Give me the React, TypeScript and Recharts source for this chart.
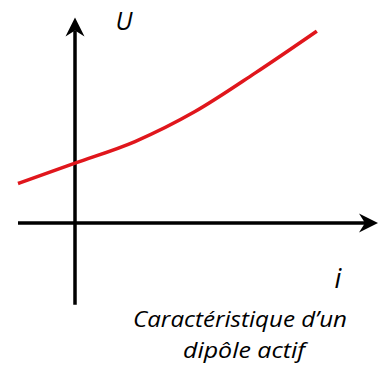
import { LineChart, Line, XAxis, YAxis, ReferenceLine } from "recharts";

// courbe U = f(i) (unités arbitraires)
const iValues = [-0.95, 0, 1, 2, 3, 4.03];
const uValues = [0.66, 1.0, 1.36, 1.86, 2.5, 3.2];

const axisI = { from: -0.95, to: 5.05 };
const axisU = { from: -1.36, to: 3.43 };

const captionLines = ["Caractéristique d’un", "dipôle actif"];

const data = iValues.map((i, k) => ({ i, U: uValues[k] }));

const FONT = "'Open Sans', Lato, sans-serif";

const ArrowAxis = (props: any) => {
  const { x1, y1, x2, y2 } = props;
  const dx = x2 - x1;
  const dy = y2 - y1;
  const len = Math.sqrt(dx * dx + dy * dy) || 1;
  const ux = dx / len;
  const uy = dy / len;
  const px = -uy;
  const py = ux;
  const head = 19;
  const half = 9.5;
  const notch = 13;
  const path = [
    `M${x2},${y2}`,
    `L${x2 - ux * head + px * half},${y2 - uy * head + py * half}`,
    `L${x2 - ux * notch},${y2 - uy * notch}`,
    `L${x2 - ux * head - px * half},${y2 - uy * head - py * half}`,
    "Z",
  ].join(" ");
  return (
    <g>
      <line
        x1={x1}
        y1={y1}
        x2={x2 - ux * notch}
        y2={y2 - uy * notch}
        stroke="#000"
        strokeWidth={3.5}
      />
      <path d={path} fill="#000" />
    </g>
  );
};

export default function App() {
  return (
    <div>
      <style>{"body{margin:0}"}</style>
      <LineChart
        width={390}
        height={370}
        data={data}
        margin={{ top: 0, right: 0, left: 0, bottom: 0 }}
      >
        <XAxis type="number" dataKey="i" domain={[-1.25, 5.25]} hide />
        <YAxis type="number" domain={[-2.45, 3.72]} hide />

        <ReferenceLine
          segment={[
            { x: axisI.from, y: 0 },
            { x: axisI.to, y: 0 },
          ]}
          shape={ArrowAxis}
        />
        <ReferenceLine
          segment={[
            { x: 0, y: axisU.from },
            { x: 0, y: axisU.to },
          ]}
          shape={ArrowAxis}
        />

        <Line
          type="monotone"
          dataKey="U"
          stroke="#e0161c"
          strokeWidth={3.5}
          strokeLinecap="butt"
          dot={false}
          activeDot={false}
          isAnimationActive={false}
        />

        <text x={124} y={30} textAnchor="middle" fontFamily={FONT} fontStyle="italic" fontSize={25} fill="#000">
          U
        </text>
        <text x={338} y={288} textAnchor="middle" fontFamily={FONT} fontStyle="italic" fontSize={27} fill="#000">
          i
        </text>
        <text
          x={240}
          y={327}
          textAnchor="middle"
          fontFamily={FONT}
          fontStyle="italic"
          fontSize={21}
          textLength={214}
          lengthAdjust="spacingAndGlyphs"
          fill="#000"
        >
          {captionLines[0]}
        </text>
        <text
          x={244}
          y={358}
          textAnchor="middle"
          fontFamily={FONT}
          fontStyle="italic"
          fontSize={21}
          textLength={122}
          lengthAdjust="spacingAndGlyphs"
          fill="#000"
        >
          {captionLines[1]}
        </text>
      </LineChart>
    </div>
  );
}
